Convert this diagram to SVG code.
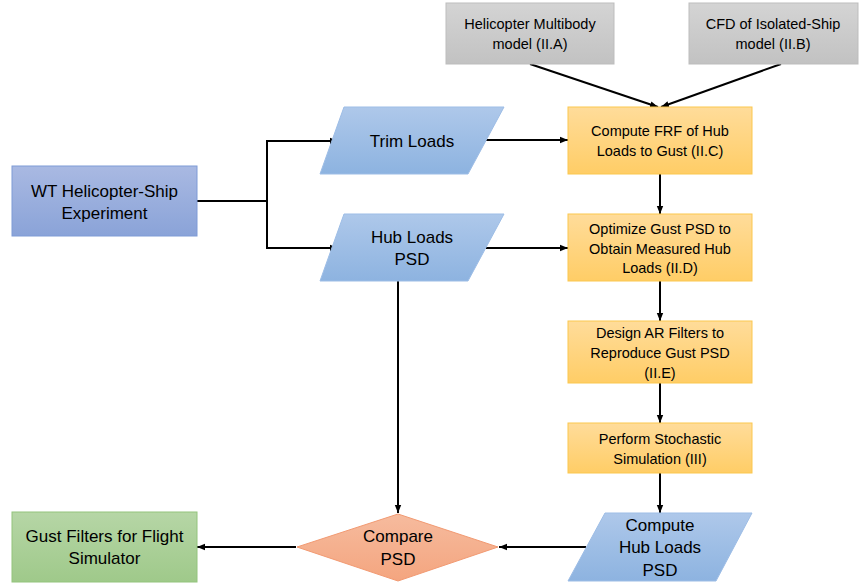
<svg xmlns="http://www.w3.org/2000/svg" width="862" height="583" viewBox="0 0 862 583">
<defs>
<linearGradient id="gBlue" x1="0" y1="0" x2="0" y2="1"><stop offset="0" stop-color="#aec8ea"/><stop offset="1" stop-color="#8db3e0"/></linearGradient>
<linearGradient id="gPurple" x1="0" y1="0" x2="0" y2="1"><stop offset="0" stop-color="#a9b9e2"/><stop offset="1" stop-color="#8aa3d8"/></linearGradient>
<linearGradient id="gYellow" x1="0" y1="0" x2="0" y2="1"><stop offset="0" stop-color="#ffdc9a"/><stop offset="1" stop-color="#ffcd66"/></linearGradient>
<linearGradient id="gGray" x1="0" y1="0" x2="0" y2="1"><stop offset="0" stop-color="#d4d4d4"/><stop offset="1" stop-color="#c2c2c2"/></linearGradient>
<linearGradient id="gOrange" x1="0" y1="0" x2="0" y2="1"><stop offset="0" stop-color="#f6bb9e"/><stop offset="1" stop-color="#f4a57f"/></linearGradient>
<linearGradient id="gGreen" x1="0" y1="0" x2="0" y2="1"><stop offset="0" stop-color="#b6d6a6"/><stop offset="1" stop-color="#9fc98a"/></linearGradient>
<marker id="arr" viewBox="0 0 10 10" refX="10" refY="5" markerWidth="4" markerHeight="4" orient="auto" markerUnits="strokeWidth"><path d="M0,1 L10,5 L0,9 Z" fill="#000"/></marker>
</defs>
<style>
text{font-family:"Liberation Sans",Arial,sans-serif;fill:#000;text-anchor:middle}
.big{font-size:17px}
.sm{font-size:14.5px}
.conn{fill:none;stroke:#000;stroke-width:2}
.arrow{marker-end:url(#arr)}
</style>
<rect width="862" height="583" fill="#fff"/>
<g id="connectors">
<polyline class="conn" points="197,201 267,201 267,140"/>
<polyline class="conn arrow" points="267,141 338,141"/>
<polyline class="conn arrow" points="267,201 267,248 338,248"/>
<line class="conn arrow" x1="486" y1="140" x2="568" y2="140"/>
<line class="conn arrow" x1="486" y1="248" x2="568" y2="248"/>
<line class="conn arrow" x1="530" y1="64" x2="658" y2="107"/>
<line class="conn arrow" x1="781" y1="64" x2="661" y2="107"/>
<line class="conn arrow" x1="660" y1="174" x2="660" y2="214"/>
<line class="conn arrow" x1="660" y1="281" x2="660" y2="321"/>
<line class="conn arrow" x1="660" y1="383" x2="660" y2="423"/>
<line class="conn arrow" x1="660" y1="473" x2="660" y2="513"/>
<line class="conn arrow" x1="586" y1="547" x2="499" y2="547"/>
<line class="conn arrow" x1="398" y1="281" x2="398" y2="513"/>
<line class="conn arrow" x1="296" y1="547" x2="197" y2="547"/>
</g>
<g id="wt">
<rect x="12" y="166" width="185" height="70" fill="url(#gPurple)" stroke="#7f9bd6" stroke-width="1"/>
<text class="big" x="104.5" y="197">WT Helicopter-Ship</text>
<text class="big" x="104.5" y="219">Experiment</text>
</g>
<g id="trim">
<polygon points="344,107 504,107 468,174 320,174" fill="url(#gBlue)" stroke="#9dbde6" stroke-width="1"/>
<text class="big" x="412" y="147">Trim Loads</text>
</g>
<g id="hubpsd">
<polygon points="344,214 504,214 468,281 320,281" fill="url(#gBlue)" stroke="#9dbde6" stroke-width="1"/>
<text class="big" x="412" y="243">Hub Loads</text>
<text class="big" x="412" y="265">PSD</text>
</g>
<g id="multibody">
<rect x="446" y="3" width="168" height="61" fill="url(#gGray)" stroke="#bdbdbd" stroke-width="1"/>
<text class="sm" x="530" y="29">Helicopter Multibody</text>
<text class="sm" x="530" y="49">model (II.A)</text>
</g>
<g id="cfd">
<rect x="689" y="3" width="169" height="61" fill="url(#gGray)" stroke="#bdbdbd" stroke-width="1"/>
<text class="sm" x="773" y="29">CFD of Isolated-Ship</text>
<text class="sm" x="773" y="49">model (II.B)</text>
</g>
<g id="frf">
<rect x="568" y="107" width="184" height="67" fill="url(#gYellow)" stroke="#fbc74e" stroke-width="1"/>
<text class="sm" x="660" y="136">Compute FRF of Hub</text>
<text class="sm" x="660" y="156">Loads to Gust (II.C)</text>
</g>
<g id="optimize">
<rect x="568" y="214" width="184" height="67" fill="url(#gYellow)" stroke="#fbc74e" stroke-width="1"/>
<text class="sm" x="660" y="234">Optimize Gust PSD to</text>
<text class="sm" x="660" y="254">Obtain Measured Hub</text>
<text class="sm" x="660" y="273">Loads (II.D)</text>
</g>
<g id="design">
<rect x="568" y="321" width="184" height="62" fill="url(#gYellow)" stroke="#fbc74e" stroke-width="1"/>
<text class="sm" x="660" y="338">Design AR Filters to</text>
<text class="sm" x="660" y="358">Reproduce Gust PSD</text>
<text class="sm" x="660" y="378">(II.E)</text>
</g>
<g id="stochastic">
<rect x="568" y="423" width="184" height="50" fill="url(#gYellow)" stroke="#fbc74e" stroke-width="1"/>
<text class="sm" x="660" y="444">Perform Stochastic</text>
<text class="sm" x="660" y="464">Simulation (III)</text>
</g>
<g id="computepsd">
<polygon points="605,513 752,513 716,581 568,581" fill="url(#gBlue)" stroke="#9dbde6" stroke-width="1"/>
<text class="big" x="660" y="531">Compute</text>
<text class="big" x="660" y="553">Hub Loads</text>
<text class="big" x="660" y="576">PSD</text>
</g>
<g id="compare">
<polygon points="398,514 498,547 398,581 297,547" fill="url(#gOrange)" stroke="#f29a72" stroke-width="1"/>
<text class="big" x="398" y="542">Compare</text>
<text class="big" x="398" y="565">PSD</text>
</g>
<g id="gust">
<rect x="12" y="512" width="185" height="70" fill="url(#gGreen)" stroke="#93c47d" stroke-width="1"/>
<text class="big" x="104.5" y="542">Gust Filters for Flight</text>
<text class="big" x="104.5" y="564">Simulator</text>
</g>
</svg>
